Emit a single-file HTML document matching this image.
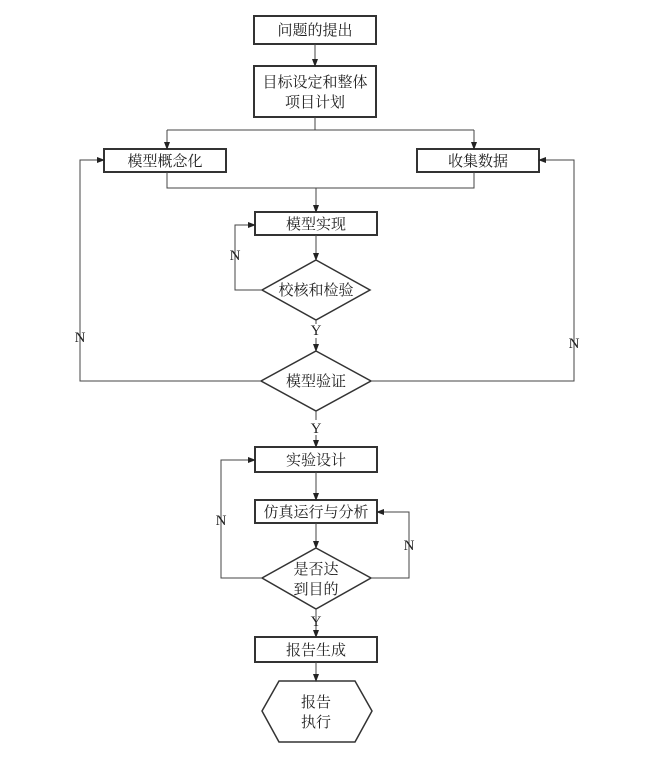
<!DOCTYPE html>
<html><head><meta charset="utf-8"><style>
body{margin:0;background:#fff;}
svg text{font-family:"Liberation Serif","Noto Serif CJK SC","Noto Sans CJK SC",serif;font-size:15px;fill:#222;}
</style></head><body>
<svg width="660" height="755" viewBox="0 0 660 755" xmlns="http://www.w3.org/2000/svg">
<defs><marker id="a" markerWidth="8" markerHeight="8" refX="7" refY="4" orient="auto" markerUnits="userSpaceOnUse"><path d="M0,1 L8,4 L0,7 Z" fill="#222"/></marker></defs>
<g fill="none" stroke="#333" stroke-width="1.5">
<rect x="254" y="16" width="122" height="28" stroke-width="2"/>
<rect x="254" y="66" width="122" height="51" stroke-width="2"/>
<rect x="104" y="149" width="122" height="23" stroke-width="2"/>
<rect x="417" y="149" width="122" height="23" stroke-width="2"/>
<rect x="255" y="212" width="122" height="23" stroke-width="2"/>
<polygon points="316,260 370,290 316,320 262,290"/>
<polygon points="316,351 371,381 316,411 261,381"/>
<rect x="255" y="447" width="122" height="25" stroke-width="2"/>
<rect x="255" y="500" width="122" height="23" stroke-width="2"/>
<polygon points="316,548 371,578 316,609 262,578"/>
<rect x="255" y="637" width="122" height="25" stroke-width="2"/>
<polygon points="279,681 355,681 372,711 355,742 279,742 262,711"/>
</g>
<g fill="none" stroke="#444" stroke-width="1">
<line x1="315" y1="44" x2="315" y2="66" marker-end="url(#a)"/>
<polyline points="315,117 315,130"/>
<polyline points="167,130 474,130"/>
<line x1="167" y1="130" x2="167" y2="149" marker-end="url(#a)"/>
<line x1="474" y1="130" x2="474" y2="149" marker-end="url(#a)"/>
<polyline points="167,172 167,188 474,188 474,172"/>
<line x1="316" y1="188" x2="316" y2="212" marker-end="url(#a)"/>
<line x1="316" y1="235" x2="316" y2="260" marker-end="url(#a)"/>
<polyline points="262,290 235,290 235,225 255,225" marker-end="url(#a)"/>
<line x1="316" y1="320" x2="316" y2="324"/>
<line x1="316" y1="338" x2="316" y2="351" marker-end="url(#a)"/>
<polyline points="261,381 80,381 80,160 104,160" marker-end="url(#a)"/>
<polyline points="371,381 574,381 574,160 539,160" marker-end="url(#a)"/>
<line x1="316" y1="411" x2="316" y2="420"/>
<line x1="316" y1="435" x2="316" y2="447" marker-end="url(#a)"/>
<line x1="316" y1="472" x2="316" y2="500" marker-end="url(#a)"/>
<line x1="316" y1="523" x2="316" y2="548" marker-end="url(#a)"/>
<polyline points="262,578 221,578 221,460 255,460" marker-end="url(#a)"/>
<polyline points="371,578 409,578 409,512 377,512" marker-end="url(#a)"/>
<line x1="316" y1="609" x2="316" y2="637" marker-end="url(#a)"/>
<line x1="316" y1="662" x2="316" y2="681" marker-end="url(#a)"/>
</g>
<g text-anchor="middle">
<text x="315" y="35">问题的提出</text>
<text x="315" y="87">目标设定和整体</text>
<text x="315" y="107">项目计划</text>
<text x="165" y="166">模型概念化</text>
<text x="478" y="166">收集数据</text>
<text x="316" y="229">模型实现</text>
<text x="316" y="295">校核和检验</text>
<text x="316" y="386">模型验证</text>
<text x="316" y="465">实验设计</text>
<text x="316" y="517">仿真运行与分析</text>
<text x="316" y="574">是否达</text>
<text x="316" y="594">到目的</text>
<text x="316" y="655">报告生成</text>
<text x="316" y="707">报告</text>
<text x="316" y="727">执行</text>
<g style="font-size:13px">
<text x="235" y="260">N</text>
<text x="316" y="335">Y</text>
<text x="80" y="342">N</text>
<text x="574" y="348">N</text>
<text x="316" y="433">Y</text>
<text x="221" y="525">N</text>
<text x="409" y="550">N</text>
<text x="316" y="626">Y</text>
</g>
</g>
</svg>
</body></html>
